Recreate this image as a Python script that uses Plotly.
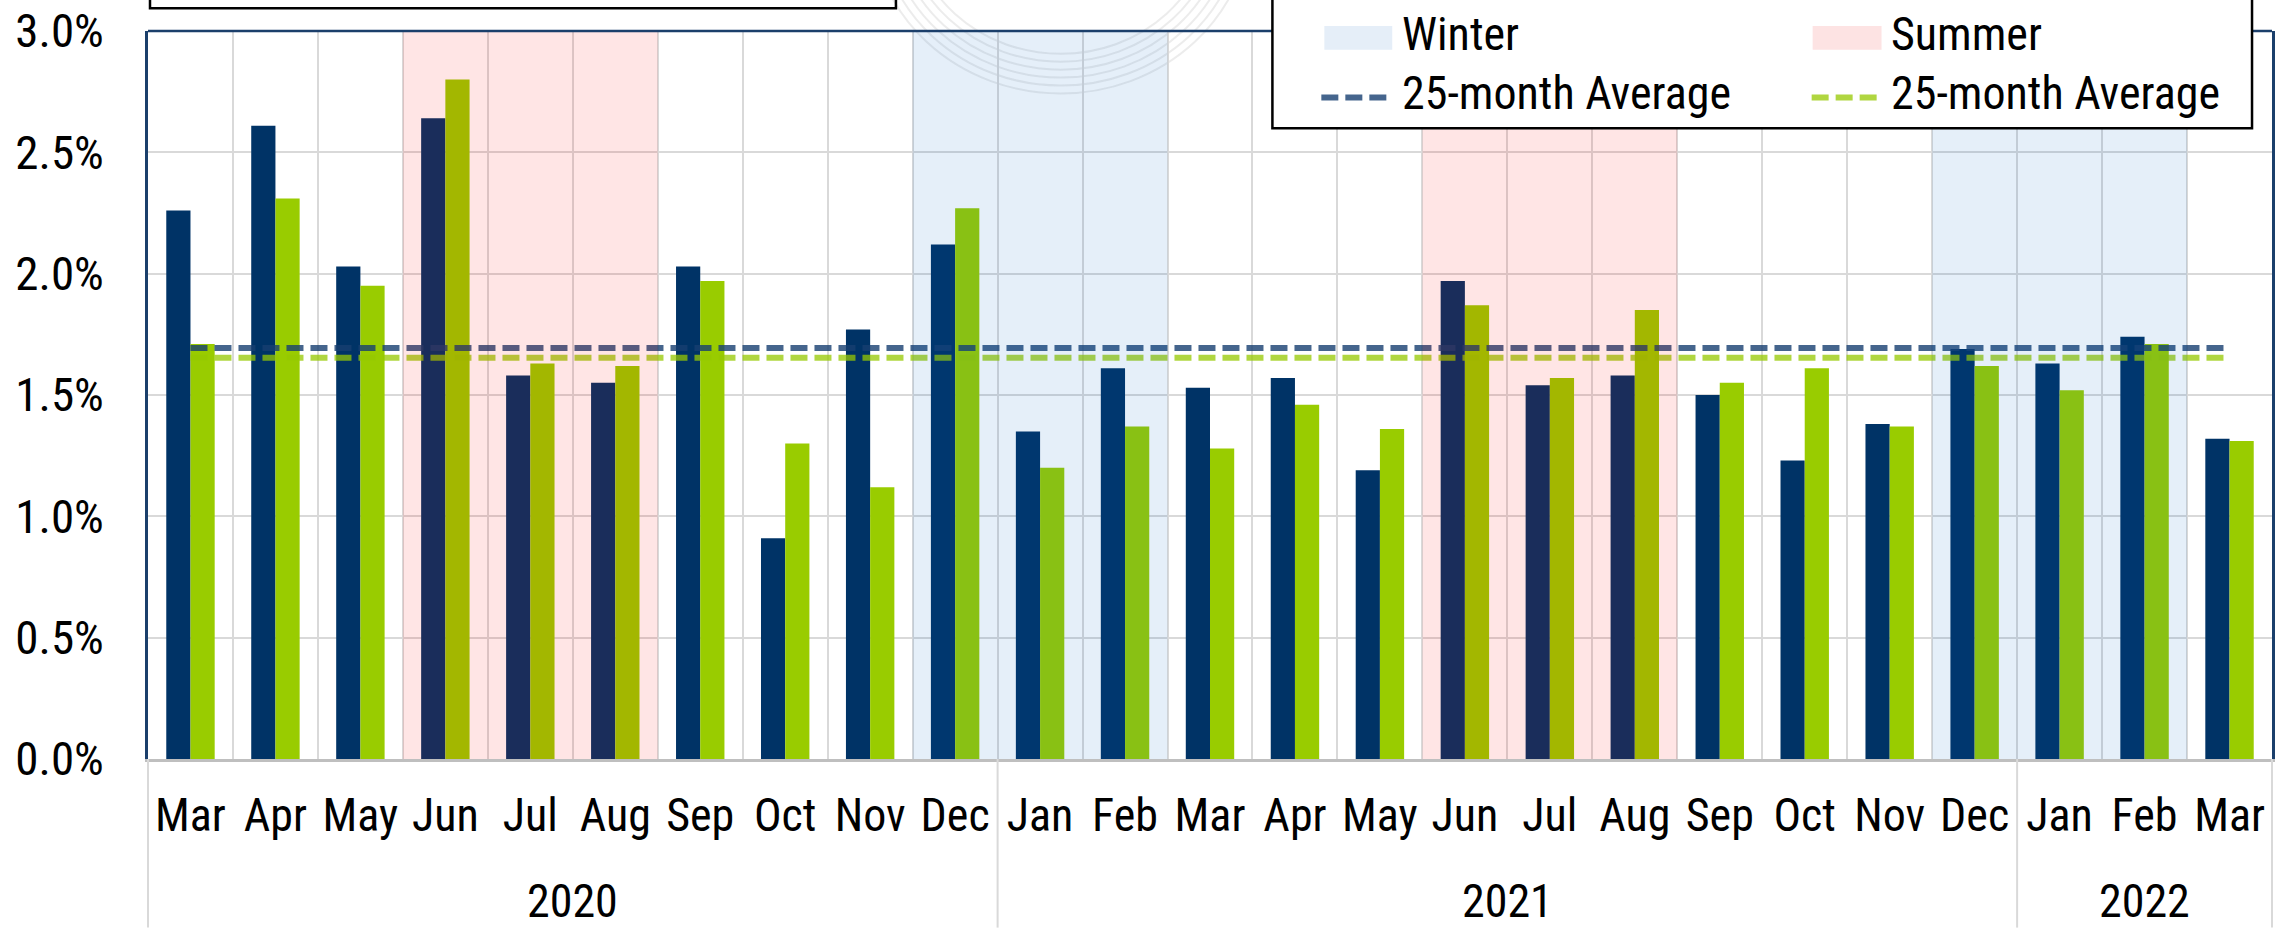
import numpy as np
import plotly.graph_objects as go

# ---------------- data ----------------
months = ["Mar", "Apr", "May", "Jun", "Jul", "Aug", "Sep", "Oct", "Nov", "Dec",
          "Jan", "Feb", "Mar", "Apr", "May", "Jun", "Jul", "Aug", "Sep", "Oct",
          "Nov", "Dec", "Jan", "Feb", "Mar"]
years = ["2020", "2021", "2022"]
year_counts = [10, 12, 3]
series_navy = [2.26, 2.61, 2.03, 2.64, 1.58, 1.55, 2.03, 0.91, 1.77, 2.12,
               1.35, 1.61, 1.53, 1.57, 1.19, 1.97, 1.54, 1.58, 1.50, 1.23,
               1.38, 1.69, 1.63, 1.74, 1.32]
series_green = [1.71, 2.31, 1.95, 2.80, 1.63, 1.62, 1.97, 1.30, 1.12, 2.27,
                1.20, 1.37, 1.28, 1.46, 1.36, 1.87, 1.57, 1.85, 1.55, 1.61,
                1.37, 1.62, 1.52, 1.71, 1.31]
winter_idx = [9, 10, 11, 21, 22, 23]
summer_idx = [3, 4, 5, 15, 16, 17]
legend_labels = ["Winter", "Summer", "25-month Average", "25-month Average"]
y_ticks = [0.0, 0.005, 0.010, 0.015, 0.020, 0.025, 0.030]

# ---------------- layout helpers ----------------
W, H = 2278, 929
L, R, T, B = 148, 3, 25, 170
PW, PH = W - L - R, H - T - B
FONT = ("Roboto Condensed, DejaVu Sans Condensed, Noto Sans Condensed, "
        "Liberation Sans Narrow, Arial Narrow, Liberation Sans, sans-serif")


def px2x(px):
    return (px - L) / PW


def py2y(py):
    return (H - B - py) / PH


NAVY = "#003366"
GREEN = "#99CC00"
AVG_NAVY = "rgba(23,62,112,0.8)"
AVG_GREEN = "rgba(150,200,0,0.75)"
WINTER = "rgba(0,100,200,0.10)"
SUMMER = "rgba(255,0,0,0.10)"
DASH = "17px,7px"

n = len(months)
xs = list(range(n))
navy = [v / 100 for v in series_navy]
green = [v / 100 for v in series_green]
avg_navy = float(np.mean(navy))
avg_green = float(np.mean(green))

fig = go.Figure()
fig.add_trace(go.Bar(x=xs, y=navy, marker=dict(color=NAVY, line=dict(width=0)),
                     showlegend=False))
fig.add_trace(go.Bar(x=xs, y=green, marker=dict(color=GREEN, line=dict(width=0)),
                     showlegend=False))
fig.add_trace(go.Scatter(x=xs, y=[avg_navy] * n, mode="lines",
                         line=dict(color=AVG_NAVY, width=6, dash=DASH),
                         showlegend=False, hoverinfo="skip"))
fig.add_trace(go.Scatter(x=xs, y=[avg_green] * n, mode="lines",
                         line=dict(color=AVG_GREEN, width=6, dash=DASH),
                         showlegend=False, hoverinfo="skip"))

shapes = []
# faint watermark arcs
for k in range(6):
    cx, cy = 1062, -90
    ry = 138 + k * 8
    rx = 150 + k * 8
    shapes.append(dict(type="circle", xref="paper", yref="paper", layer="below",
                       x0=px2x(cx - rx), x1=px2x(cx + rx), y0=py2y(cy + ry), y1=py2y(cy - ry),
                       line=dict(color="rgba(200,200,200,0.35)", width=2)))

# seasonal shading (over bars)
for i in winter_idx:
    shapes.append(dict(type="rect", xref="x", yref="paper", layer="above",
                       x0=i - 0.5, x1=i + 0.5, y0=0, y1=1,
                       fillcolor=WINTER, line=dict(width=0)))
for i in summer_idx:
    shapes.append(dict(type="rect", xref="x", yref="paper", layer="above",
                       x0=i - 0.5, x1=i + 0.5, y0=0, y1=1,
                       fillcolor=SUMMER, line=dict(width=0)))

# top plot border
shapes.append(dict(type="line", xref="paper", yref="paper", layer="above",
                   x0=0, x1=1, y0=1, y1=1, line=dict(color="#1B3F6B", width=2.5)))

# separators of year groups below axis
bounds = [0]
for c in year_counts:
    bounds.append(bounds[-1] + c)
for b in bounds:
    shapes.append(dict(type="line", xref="paper", yref="paper", layer="above",
                       x0=b / n, x1=b / n, y0=0, y1=py2y(H),
                       line=dict(color="#D9D9D9", width=2)))

# title box edge at top
shapes.append(dict(type="rect", xref="paper", yref="paper", layer="above",
                   x0=px2x(150), x1=px2x(897), y0=py2y(2), y1=py2y(-60),
                   line=dict(color="black", width=2.5), fillcolor="rgba(0,0,0,0)"))

# legend box
shapes.append(dict(type="rect", xref="paper", yref="paper", layer="above",
                   x0=px2x(1274), x1=px2x(2255), y0=py2y(123), y1=py2y(-20),
                   line=dict(color="black", width=2.5), fillcolor="white"))
shapes.append(dict(type="rect", xref="paper", yref="paper", layer="above",
                   x0=px2x(1326), x1=px2x(1394), y0=py2y(44), y1=py2y(20),
                   line=dict(width=0), fillcolor="#E5EEF8"))
shapes.append(dict(type="rect", xref="paper", yref="paper", layer="above",
                   x0=px2x(1815), x1=px2x(1884), y0=py2y(44), y1=py2y(20),
                   line=dict(width=0), fillcolor="#FDE3E3"))
shapes.append(dict(type="line", xref="paper", yref="paper", layer="above",
                   x0=px2x(1323), x1=px2x(1389), y0=py2y(92), y1=py2y(92),
                   line=dict(color=AVG_NAVY, width=6, dash=DASH)))
shapes.append(dict(type="line", xref="paper", yref="paper", layer="above",
                   x0=px2x(1814), x1=px2x(1880), y0=py2y(92), y1=py2y(92),
                   line=dict(color=AVG_GREEN, width=6, dash=DASH)))

annotations = []
leg_pos = [(1402, 28), (1891, 28), (1402, 88), (1891, 88)]
for lab, (lx, ly) in zip(legend_labels, leg_pos):
    annotations.append(dict(text=lab, xref="paper", yref="paper",
                            x=px2x(lx), y=py2y(ly), xanchor="left", yanchor="middle",
                            showarrow=False, font=dict(family=FONT, size=46, color="black")))

# year labels
for yl, b0, b1 in zip(years, bounds[:-1], bounds[1:]):
    annotations.append(dict(text=yl, xref="x", yref="paper",
                            x=(b0 + b1 - 1) / 2, y=py2y(902), xanchor="center",
                            yanchor="middle", showarrow=False,
                            font=dict(family=FONT, size=46, color="black")))

fig.update_layout(
    width=W, height=H,
    margin=dict(l=L, r=R, t=T, b=B, pad=0),
    paper_bgcolor="white", plot_bgcolor="rgba(0,0,0,0)",
    barmode="group", bargap=0.43, bargroupgap=0,
    showlegend=False,
    font=dict(family=FONT, color="black"),
    shapes=shapes, annotations=annotations,
    xaxis=dict(range=[-0.5, n - 0.5], tickmode="array", tickvals=xs, ticktext=months,
               tickfont=dict(family=FONT, size=46, color="black"), tickangle=0,
               ticks="", showgrid=False, zeroline=False,
               showline=True, linecolor="#BFBFBF", linewidth=2.5,
               ticklabelstandoff=14,
               minor=dict(tickmode="array", tickvals=[k - 0.5 for k in range(1, n)],
                          showgrid=True, gridcolor="#D9D9D9", gridwidth=2, ticks="")),
    yaxis=dict(range=[0, 0.03], tickmode="array", tickvals=y_ticks,
               tickformat=".1%", tickfont=dict(family=FONT, size=47, color="black"),
               ticks="", showgrid=True, gridcolor="#D9D9D9", gridwidth=2,
               zeroline=False, showline=True, linecolor="#1B3F6B", linewidth=2.5,
               mirror=True, ticklabelstandoff=32, ticklabeloverflow="allow"),
)

fig.write_html("out.html", config={"displayModeBar": False},
               post_script="document.body.style.margin='0';document.body.style.overflow='hidden';")
